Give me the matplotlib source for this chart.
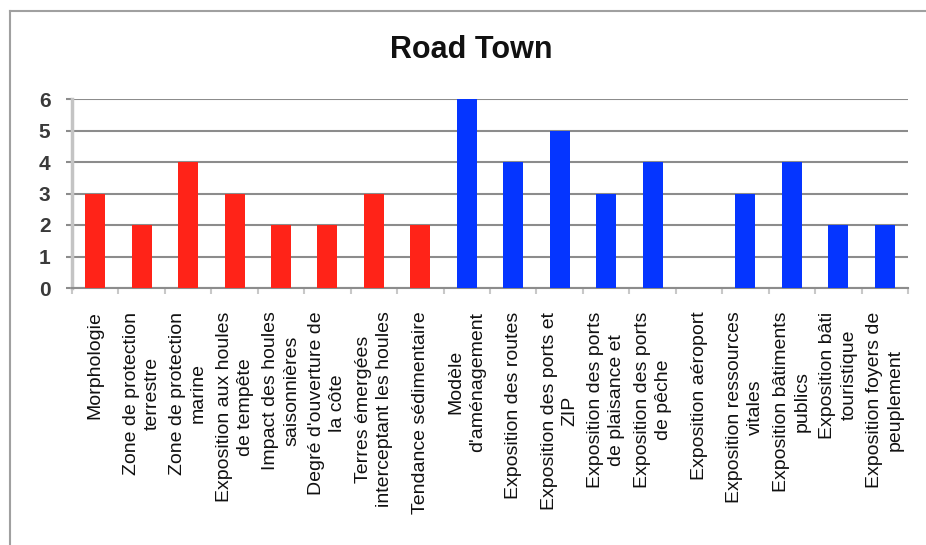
import matplotlib
matplotlib.use('Agg')
import matplotlib.pyplot as plt
from matplotlib.lines import Line2D
import numpy as np

plt.rcParams['font.family'] = ['Liberation Sans', 'DejaVu Sans']

# --- données ---
labels = [
    "Morphologie",
    "Zone de protection\nterrestre",
    "Zone de protection\nmarine",
    "Exposition aux houles\nde tempête",
    "Impact des houles\nsaisonnières",
    "Degré d'ouverture de\nla côte",
    "Terres émergées\ninterceptant les houles",
    "Tendance sédimentaire",
    "Modèle\nd'aménagement",
    "Exposition des routes",
    "Exposition des ports et\nZIP",
    "Exposition des ports\nde plaisance et",
    "Exposition des ports\nde pêche",
    "Exposition aéroport",
    "Exposition ressources\nvitales",
    "Exposition bâtiments\npublics",
    "Exposition bâti\ntouristique",
    "Exposition foyers de\npeuplement",
]
values = [3, 2, 4, 3, 2, 2, 3, 2, 6, 4, 5, 3, 4, 0, 3, 4, 2, 2]
groups = ['aléa'] * 8 + ['enjeux'] * 10
group_colors = {'aléa': '#ff2318', 'enjeux': '#0535ff'}
y_ticks = [0, 1, 2, 3, 4, 5, 6]

fig = plt.figure(figsize=(9.26, 5.45), dpi=100)
ax = fig.add_axes([72 / 926, 1 - 288 / 545, (908 - 72) / 926, (288 - 99) / 545])

x = np.arange(len(values))
colors = [group_colors[g] for g in groups]
ax.bar(x, values, width=0.43, color=colors, zorder=3)

ax.set_xlim(-0.5, len(values) - 0.5)
ax.set_ylim(0, 6)
ax.set_yticks(y_ticks)
ax.set_yticklabels([str(t) for t in y_ticks], fontsize=15, fontweight='bold', color='#3a3a3a')
ax.yaxis.grid(True, color='#8c8c8c', linewidth=1.5, zorder=1)
ax.tick_params(axis='y', length=4.5, width=1.5, color='#8c8c8c', pad=11)

# libellés des catégories
ax.set_xticks(x)
ax.set_xticklabels(labels, rotation=90, fontsize=14, ha='center', va='top',
                   multialignment='center', linespacing=1.3, color='#111111')
ax.tick_params(axis='x', length=0, pad=17)
ax.set_xticks(np.arange(len(values) + 1) - 0.5, minor=True)
ax.tick_params(axis='x', which='minor', length=4, width=1.5, color='#c8c8c8')

for s in ['top', 'right']:
    ax.spines[s].set_visible(False)
ax.spines['left'].set_color('#c4c4c4')
ax.spines['left'].set_linewidth(2.5)
ax.spines['bottom'].set_color('#8c8c8c')
ax.spines['bottom'].set_linewidth(1.5)

fig.text(471 / 926, 1 - 50 / 545, 'Road Town', ha='center', va='center',
         fontsize=22, fontweight='bold', color='#111111')

# cadre extérieur
bx, by = 10 / 926, 1 - 11 / 545
fig.add_artist(Line2D([bx, bx], [0, by], color='#a0a0a0', linewidth=1.5, transform=fig.transFigure))
fig.add_artist(Line2D([bx, 1], [by, by], color='#a0a0a0', linewidth=1.5, transform=fig.transFigure))

fig.savefig('out.png', dpi=100)
